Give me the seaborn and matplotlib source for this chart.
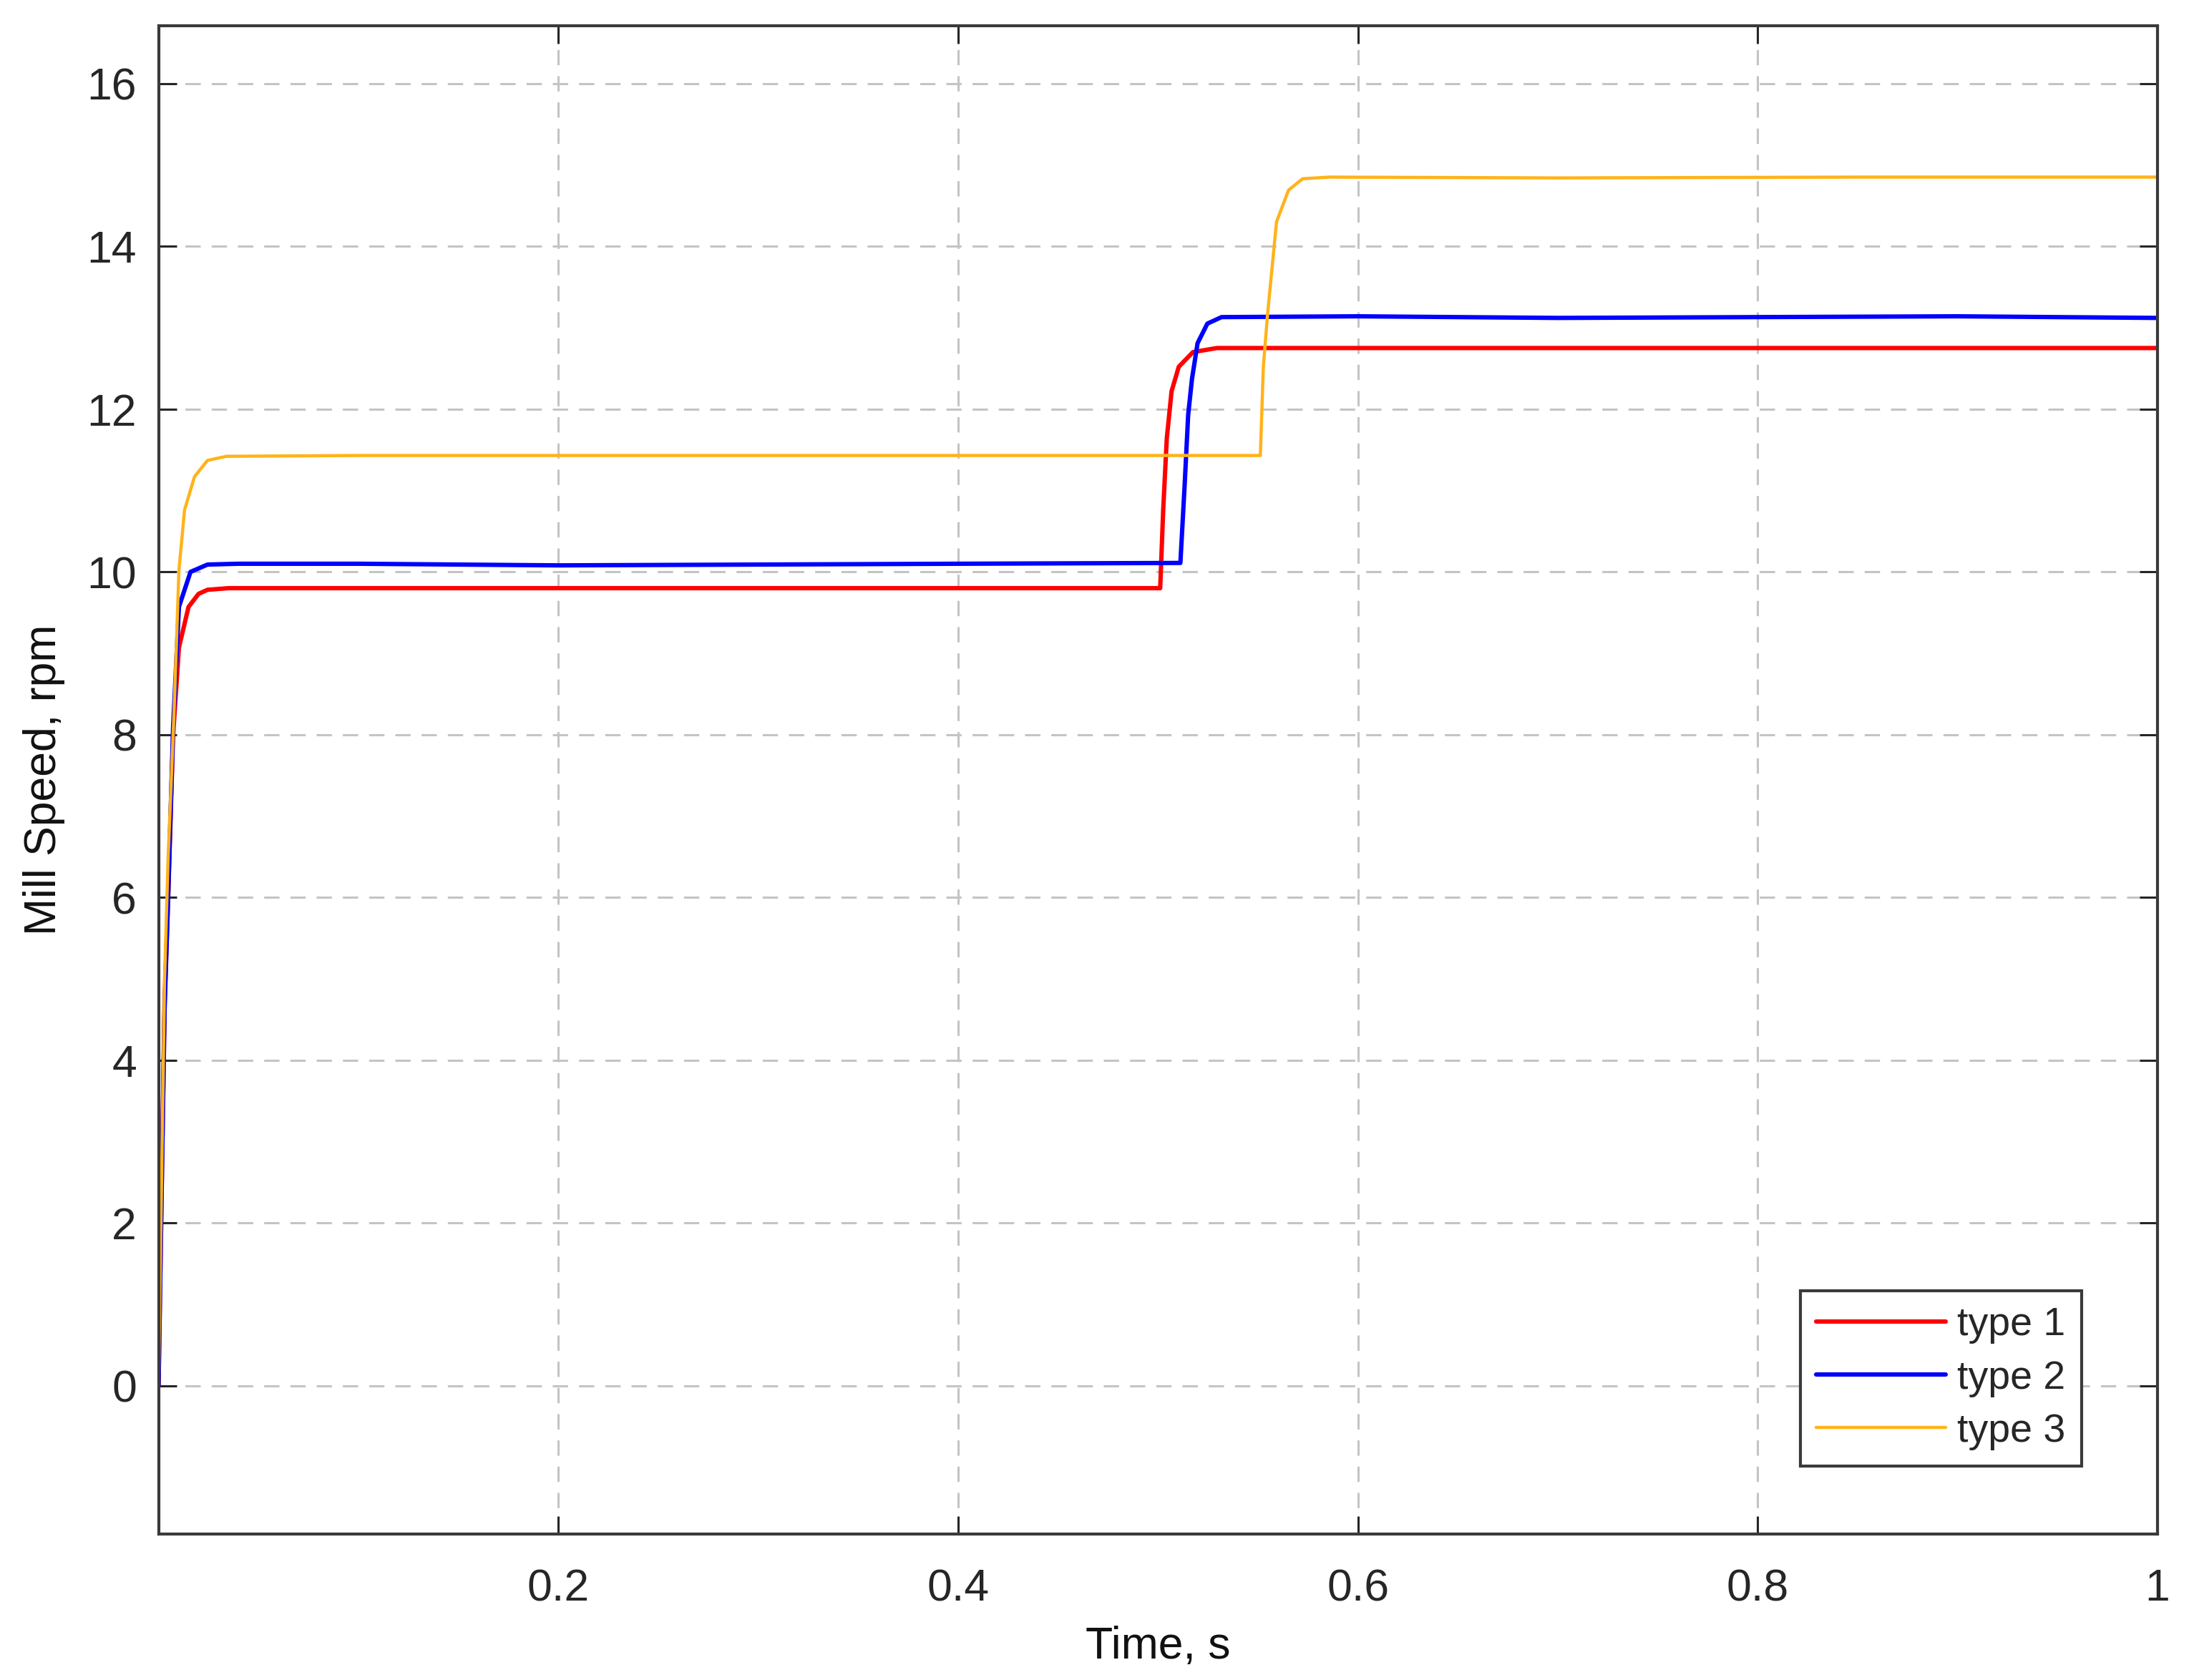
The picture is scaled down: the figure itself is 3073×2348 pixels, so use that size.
import numpy as np
import pandas as pd
import seaborn as sns
import matplotlib.pyplot as plt

# values (time in s, speed in rpm)
red_t = [0, 0.003, 0.0048, 0.0073, 0.0102, 0.015, 0.02, 0.0245, 0.035, 0.05, 0.2, 0.4,
         0.5011, 0.5026, 0.5044, 0.5068, 0.5104, 0.5175, 0.5294, 0.6, 0.8, 1.0]
red_v = [0, 4.7, 6.0, 8.0, 9.07, 9.57, 9.73, 9.78, 9.80, 9.80, 9.80, 9.80,
         9.80, 10.76, 11.64, 12.22, 12.52, 12.70, 12.75, 12.75, 12.75, 12.75]

blue_t = [0, 0.003, 0.0048, 0.0073, 0.0102, 0.016, 0.0245, 0.04, 0.1, 0.2, 0.3, 0.4,
          0.5112, 0.5133, 0.5151, 0.517, 0.5198, 0.5247, 0.5318, 0.6, 0.7, 0.8, 0.9, 1.0]
blue_v = [0, 4.6, 6.0, 8.1, 9.57, 10.0, 10.09, 10.10, 10.10, 10.08, 10.09, 10.10,
          10.11, 11.05, 11.93, 12.37, 12.81, 13.05, 13.13, 13.14, 13.12, 13.13, 13.14, 13.12]

orange_t = [0, 0.003, 0.0048, 0.0077, 0.0102, 0.013, 0.018, 0.0245, 0.034, 0.1, 0.3, 0.5,
            0.5512, 0.5527, 0.5548, 0.5581, 0.5593, 0.5653, 0.5724, 0.5856, 0.7, 0.85, 1.0]
orange_v = [0, 5.0, 6.5, 8.24, 10.02, 10.76, 11.17, 11.37, 11.42, 11.43, 11.43, 11.43,
            11.43, 12.52, 13.16, 14.0, 14.30, 14.69, 14.83, 14.85, 14.84, 14.85, 14.85]

labels = ["type 1", "type 2", "type 3"]
colors = ["#ff0000", "#0000ff", "#ffb31a"]
widths = [2.2, 2.2, 1.6]

xticks = [0.2, 0.4, 0.6, 0.8, 1.0]
xticklabels = ["0.2", "0.4", "0.6", "0.8", "1"]
yticks = [0, 2, 4, 6, 8, 10, 12, 14, 16]

sns.set_style("ticks")
plt.rcParams['font.family'] = ['Liberation Sans', 'DejaVu Sans']

fig = plt.figure(figsize=(15.365, 11.74), dpi=200)
ax = fig.add_axes([0.0721, 0.0869, 0.909, 0.8978])

series = [(red_t, red_v), (blue_t, blue_v), (orange_t, orange_v)]
for (t, v), lab, c, w in zip(series, labels, colors, widths):
    df = pd.DataFrame({"t": t, "v": v})
    sns.lineplot(data=df, x="t", y="v", ax=ax, color=c, linewidth=w, label=lab,
                 estimator=None, sort=False)

ax.set_xlim(0, 1)
ax.set_ylim(-1.82, 16.71)
ax.set_xticks(xticks)
ax.set_xticklabels(xticklabels)
ax.set_yticks(yticks)

ax.grid(True, linestyle=(0, (7, 5)), color="#c4c4c4", linewidth=1.1)
ax.set_axisbelow(True)

for s in ax.spines.values():
    s.set_color("#3a3a3a")
    s.set_linewidth(1.5)

ax.tick_params(axis="both", direction="in", length=9, width=1.1, color="#262626",
               labelsize=22.5, labelcolor="#262626", top=True, right=True)
ax.tick_params(axis="y", pad=11)
ax.tick_params(axis="x", pad=17)

ax.set_xlabel("Time, s", fontsize=22.5, labelpad=8, color="#111111")
ax.set_ylabel("Mill Speed, rpm", fontsize=22.5, labelpad=11, color="#111111")

leg = ax.legend(loc="lower right", bbox_to_anchor=(0.962, 0.045), borderaxespad=0,
                fontsize=20, handlelength=3.25, handletextpad=0.3, labelspacing=0.4,
                borderpad=0.4, frameon=True, fancybox=False, framealpha=1)
leg.get_frame().set_edgecolor("#3a3a3a")
leg.get_frame().set_linewidth(1.5)

fig.savefig("out.png", dpi=200)
